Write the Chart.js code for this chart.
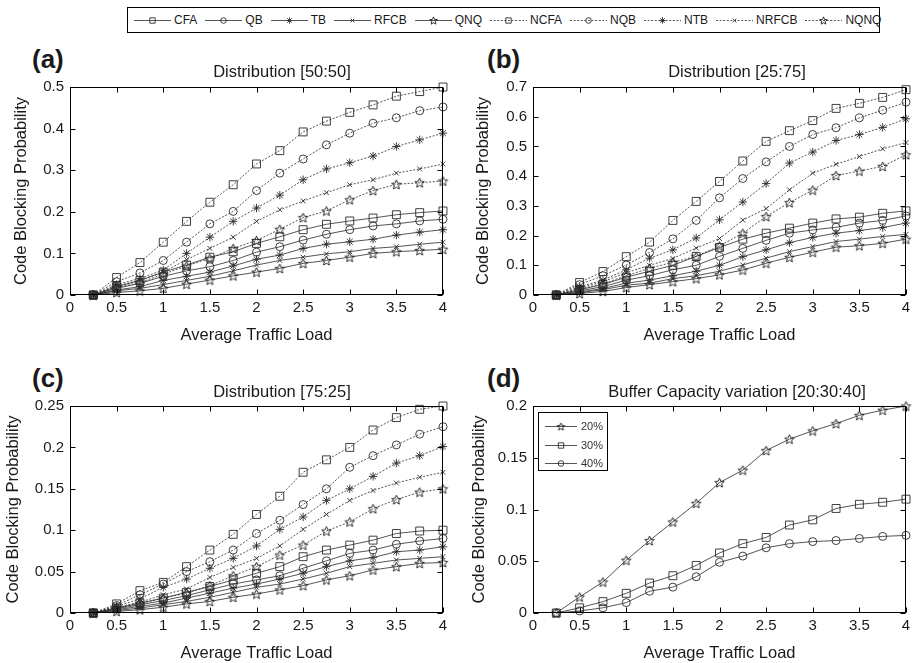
<!DOCTYPE html>
<html>
<head>
<meta charset="utf-8">
<script src="https://cdn.jsdelivr.net/npm/chart.js@4.4.1/dist/chart.umd.min.js"></script>
<style>
  body { margin: 0; background: #fff; font-family: 'Liberation Sans', Arial, sans-serif; color: #1a1a1a; }
  #page { position: relative; width: 915px; height: 663px; overflow: hidden; }
  .panel { position: absolute; }
  .tag { position: absolute; font-weight: bold; font-size: 26px; line-height: 26px; }
  .ttl { position: absolute; width: 360px; margin-left: -180px; text-align: center; font-size: 16.5px; line-height: 20px; white-space: nowrap; }
  #legend { position: absolute; left: 127px; top: 7px; width: 753px; height: 26px; box-sizing: border-box;
            border: 1px solid #000; display: flex; align-items: center; padding-left: 6px; font-size: 12px; }
  #legend .item { display: flex; align-items: center; margin-right: 8px; }
  #legend canvas { margin-right: 3px; }
  #legendD { position: absolute; left: 538px; top: 412px; width: 70px; height: 59px; box-sizing: border-box;
             border: 1px solid #000; background: #fff; font-size: 11px; color: #333; padding-top: 4px; }
  #legendD .item { display: flex; align-items: center; height: 18.5px; padding-left: 6px; }
  #legendD canvas { margin-right: 4px; }
</style>
</head>
<body>
<div id="page">
  <div id="legend"></div>
  <div class="tag" style="left:32px;top:46px">(a)</div>
  <div class="tag" style="left:487px;top:46px">(b)</div>
  <div class="tag" style="left:32px;top:365px">(c)</div>
  <div class="tag" style="left:487px;top:365px">(d)</div>
  <canvas id="chartA" class="panel" style="left:0;top:55px" width="455" height="290"></canvas>
  <canvas id="chartB" class="panel" style="left:455px;top:55px" width="460" height="290"></canvas>
  <canvas id="chartC" class="panel" style="left:0;top:374px" width="455" height="289"></canvas>
  <canvas id="chartD" class="panel" style="left:455px;top:374px" width="460" height="289"></canvas>
  <div class="ttl" style="left:282px;top:61px">Distribution [50:50]</div>
  <div class="ttl" style="left:737px;top:61px">Distribution [25:75]</div>
  <div class="ttl" style="left:282px;top:381px">Distribution [75:25]</div>
  <div class="ttl" style="left:737px;top:381px">Buffer Capacity variation [20:30:40]</div>
  <div id="legendD"></div>
</div>
<script>
// x positions (average traffic load) shared by every curve
const xLoad = [0.25, 0.5, 0.75, 1, 1.25, 1.5, 1.75, 2, 2.25, 2.5, 2.75, 3, 3.25, 3.5, 3.75, 4];
const xTicks = [0, 0.5, 1, 1.5, 2, 2.5, 3, 3.5, 4];
const yTicksA = [0, 0.1, 0.2, 0.3, 0.4, 0.5];
const yTicksB = [0, 0.1, 0.2, 0.3, 0.4, 0.5, 0.6, 0.7];
const yTicksC = [0, 0.05, 0.1, 0.15, 0.2, 0.25];
const yTicksD = [0, 0.05, 0.1, 0.15, 0.2];

const seriesNames = ['CFA', 'QB', 'TB', 'RFCB', 'QNQ', 'NCFA', 'NQB', 'NTB', 'NRFCB', 'NQNQ'];
const bufferNames = ['20%', '30%', '40%'];

// (a) Distribution [50:50]
const a_CFA   = [0, 0.020, 0.035, 0.055, 0.072, 0.091, 0.104, 0.124, 0.140, 0.157, 0.170, 0.178, 0.185, 0.193, 0.198, 0.202];
const a_QB    = [0, 0.016, 0.028, 0.045, 0.058, 0.068, 0.083, 0.103, 0.116, 0.132, 0.146, 0.157, 0.166, 0.171, 0.178, 0.182];
const a_TB    = [0, 0.012, 0.020, 0.035, 0.045, 0.055, 0.070, 0.086, 0.096, 0.112, 0.122, 0.128, 0.134, 0.144, 0.151, 0.157];
const a_RFCB  = [0, 0.010, 0.016, 0.025, 0.035, 0.045, 0.058, 0.072, 0.083, 0.091, 0.099, 0.104, 0.112, 0.116, 0.122, 0.127];
const a_QNQ   = [0, 0.006, 0.010, 0.016, 0.026, 0.036, 0.046, 0.055, 0.064, 0.076, 0.083, 0.091, 0.100, 0.104, 0.107, 0.110];
const a_NCFA  = [0, 0.042, 0.078, 0.127, 0.177, 0.223, 0.265, 0.315, 0.347, 0.392, 0.418, 0.439, 0.457, 0.478, 0.489, 0.500];
const a_NQB   = [0, 0.032, 0.053, 0.083, 0.127, 0.171, 0.201, 0.251, 0.293, 0.327, 0.361, 0.389, 0.413, 0.426, 0.443, 0.452];
const a_NTB   = [0, 0.025, 0.040, 0.060, 0.100, 0.139, 0.177, 0.209, 0.240, 0.277, 0.303, 0.318, 0.334, 0.357, 0.373, 0.389];
const a_NRFCB = [0, 0.022, 0.035, 0.055, 0.085, 0.112, 0.139, 0.177, 0.205, 0.226, 0.246, 0.265, 0.277, 0.293, 0.303, 0.315];
const a_NQNQ  = [0, 0.018, 0.030, 0.050, 0.070, 0.088, 0.112, 0.131, 0.158, 0.186, 0.202, 0.229, 0.251, 0.266, 0.270, 0.274];

// (b) Distribution [25:75]
const b_CFA   = [0, 0.018, 0.035, 0.060, 0.080, 0.100, 0.130, 0.160, 0.188, 0.208, 0.225, 0.242, 0.256, 0.262, 0.275, 0.283];
const b_QB    = [0, 0.014, 0.028, 0.050, 0.065, 0.085, 0.100, 0.130, 0.157, 0.184, 0.208, 0.219, 0.228, 0.242, 0.251, 0.266];
const b_TB    = [0, 0.010, 0.022, 0.040, 0.050, 0.065, 0.080, 0.100, 0.129, 0.152, 0.176, 0.194, 0.208, 0.217, 0.227, 0.242];
const b_RFCB  = [0, 0.008, 0.018, 0.033, 0.040, 0.055, 0.065, 0.080, 0.101, 0.124, 0.146, 0.163, 0.180, 0.188, 0.197, 0.204];
const b_QNQ   = [0, 0.005, 0.012, 0.025, 0.035, 0.045, 0.055, 0.068, 0.084, 0.107, 0.127, 0.144, 0.161, 0.166, 0.174, 0.188];
const b_NCFA  = [0, 0.042, 0.079, 0.129, 0.178, 0.251, 0.315, 0.382, 0.451, 0.517, 0.553, 0.587, 0.628, 0.645, 0.665, 0.691];
const b_NQB   = [0, 0.035, 0.065, 0.101, 0.143, 0.189, 0.251, 0.327, 0.392, 0.448, 0.500, 0.540, 0.563, 0.596, 0.622, 0.649];
const b_NTB   = [0, 0.028, 0.050, 0.085, 0.124, 0.152, 0.192, 0.253, 0.313, 0.375, 0.444, 0.481, 0.520, 0.540, 0.564, 0.593];
const b_NRFCB = [0, 0.024, 0.045, 0.075, 0.100, 0.123, 0.158, 0.190, 0.252, 0.291, 0.354, 0.410, 0.440, 0.466, 0.492, 0.513];
const b_NQNQ  = [0, 0.020, 0.038, 0.065, 0.090, 0.110, 0.130, 0.165, 0.208, 0.264, 0.311, 0.353, 0.402, 0.417, 0.433, 0.472];

// (c) Distribution [75:25]
const c_CFA   = [0, 0.006, 0.012, 0.018, 0.025, 0.032, 0.040, 0.048, 0.056, 0.068, 0.076, 0.082, 0.088, 0.096, 0.099, 0.100];
const c_QB    = [0, 0.005, 0.010, 0.015, 0.021, 0.028, 0.035, 0.040, 0.045, 0.054, 0.063, 0.072, 0.076, 0.083, 0.087, 0.090];
const c_TB    = [0, 0.004, 0.008, 0.012, 0.018, 0.024, 0.030, 0.035, 0.041, 0.048, 0.056, 0.063, 0.067, 0.074, 0.076, 0.080];
const c_RFCB  = [0, 0.003, 0.006, 0.010, 0.014, 0.019, 0.025, 0.031, 0.035, 0.041, 0.048, 0.056, 0.060, 0.064, 0.066, 0.068];
const c_QNQ   = [0, 0.002, 0.004, 0.007, 0.011, 0.014, 0.019, 0.023, 0.028, 0.033, 0.040, 0.045, 0.052, 0.056, 0.060, 0.061];
const c_NCFA  = [0, 0.011, 0.027, 0.037, 0.056, 0.076, 0.095, 0.119, 0.141, 0.170, 0.185, 0.200, 0.221, 0.236, 0.246, 0.250];
const c_NQB   = [0, 0.009, 0.022, 0.035, 0.050, 0.062, 0.076, 0.096, 0.112, 0.131, 0.150, 0.176, 0.190, 0.203, 0.216, 0.225];
const c_NTB   = [0, 0.008, 0.017, 0.031, 0.041, 0.054, 0.066, 0.081, 0.101, 0.116, 0.136, 0.150, 0.165, 0.181, 0.190, 0.201];
const c_NRFCB = [0, 0.007, 0.013, 0.022, 0.029, 0.043, 0.055, 0.066, 0.081, 0.101, 0.119, 0.136, 0.148, 0.157, 0.164, 0.170];
const c_NQNQ  = [0, 0.006, 0.011, 0.018, 0.024, 0.033, 0.045, 0.056, 0.070, 0.082, 0.099, 0.110, 0.126, 0.137, 0.146, 0.150];

// (d) Buffer Capacity variation [20:30:40]
const d_20 = [0, 0.0155, 0.030, 0.051, 0.070, 0.088, 0.106, 0.126, 0.138, 0.157, 0.168, 0.176, 0.183, 0.191, 0.196, 0.200];
const d_30 = [0, 0.005, 0.011, 0.019, 0.029, 0.036, 0.046, 0.058, 0.067, 0.073, 0.085, 0.090, 0.101, 0.105, 0.107, 0.110];
const d_40 = [0, 0.002, 0.005, 0.010, 0.021, 0.025, 0.035, 0.049, 0.055, 0.063, 0.067, 0.069, 0.070, 0.072, 0.074, 0.075];

const FONT = "'Liberation Sans', Arial, sans-serif";
const INK = '#1a1a1a';
const LINE = '#2a2a2a';

// MATLAB-like pentagram marker, drawn once into a small canvas
function pentagram(r) {
    const c = document.createElement('canvas');
    const s = Math.ceil(r * 2 + 3);
    c.width = c.height = s;
    const g = c.getContext('2d');
    g.strokeStyle = '#1a1a1a';
    g.lineWidth = 0.9;
    g.beginPath();
    for (let i = 0; i < 10; i++) {
        const rad = i % 2 ? r * 0.45 : r;
        const ang = -Math.PI / 2 + i * Math.PI / 5;
        g.lineTo(s / 2 + rad * Math.cos(ang), s / 2 + rad * Math.sin(ang) + r * 0.1);
    }
    g.closePath();
    g.stroke();
    return c;
}

const starBig = pentagram(5);
const starSmall = pentagram(4);

const markers = {
    CFA:  { style: 'rect', r: 5.6, lr: 3.8 },
    QB:   { style: 'circle', r: 4, lr: 2.8 },
    TB:   { style: 'star', r: 4.2, lr: 3.2 },
    RFCB: { style: 'crossRot', r: 3.4, lr: 2.6 },
    QNQ:  { style: 'pent', r: 5, lr: 4 }
};
const markerOfBuffer = { '20%': 'QNQ', '30%': 'CFA', '40%': 'QB' };

function makeDataset(label, values, markerKey, dotted) {
    const m = markers[markerKey];
    return {
        label,
        data: xLoad.map((x, i) => ({ x, y: values[i] })),
        borderColor: LINE,
        borderWidth: 0.8,
        borderDash: dotted ? [2, 1.6] : [],
        pointStyle: m.style === 'pent' ? starBig : m.style,
        pointRadius: m.r,
        pointBorderColor: LINE,
        pointBackgroundColor: 'rgba(0,0,0,0)',
        pointBorderWidth: 0.9,
        tension: 0,
        clip: false
    };
}

// box frame with inward ticks on all four sides
const frameTicks = {
    id: 'frameTicks',
    afterDatasetsDraw(chart) {
        const { ctx, chartArea: a, scales: { x, y } } = chart;
        const L = Math.round(a.left) + 0.5, R = Math.round(a.right) - 0.5;
        const T = Math.round(a.top) + 0.5, B = Math.round(a.bottom) - 0.5;
        ctx.save();
        ctx.strokeStyle = '#000';
        ctx.lineWidth = 1;
        ctx.strokeRect(L, T, R - L, B - T);
        ctx.beginPath();
        x.ticks.forEach(t => {
            const px = Math.round(x.getPixelForValue(t.value)) + 0.5;
            ctx.moveTo(px, B); ctx.lineTo(px, B - 5);
            ctx.moveTo(px, T); ctx.lineTo(px, T + 5);
        });
        y.ticks.forEach(t => {
            const py = Math.round(y.getPixelForValue(t.value)) + 0.5;
            ctx.moveTo(L, py); ctx.lineTo(L + 5, py);
            ctx.moveTo(R, py); ctx.lineTo(R - 5, py);
        });
        ctx.stroke();
        ctx.restore();
    }
};

function makeChart(id, cfg) {
    return new Chart(document.getElementById(id), {
        type: 'line',
        data: { datasets: cfg.datasets },
        options: {
            responsive: false,
            animation: false,
            events: [],
            layout: { padding: { left: 0, right: cfg.padRight, top: 32, bottom: 0 } },
            plugins: {
                legend: { display: false },
                tooltip: { enabled: false },
                title: { display: false }
            },
            scales: {
                x: {
                    type: 'linear',
                    min: 0, max: 4,
                    afterBuildTicks: s => { s.ticks = xTicks.map(v => ({ value: v })); },
                    afterFit: s => { s.height = 50; },
                    grid: { display: false, drawTicks: false, tickLength: 0 },
                    border: { display: false },
                    ticks: {
                        color: INK, padding: 4, maxRotation: 0, autoSkip: false,
                        font: { family: FONT, size: 15 },
                        callback: v => String(+v.toFixed(4))
                    },
                    title: {
                        display: true, text: 'Average Traffic Load', color: INK,
                        font: { family: FONT, size: 16.5, lineHeight: 1.2 },
                        padding: { top: 0, bottom: 0 }
                    }
                },
                y: {
                    min: 0, max: cfg.yTicks[cfg.yTicks.length - 1],
                    afterBuildTicks: s => { s.ticks = cfg.yTicks.map(v => ({ value: v })); },
                    afterFit: s => { s.width = cfg.yWidth; },
                    grid: { display: false, drawTicks: false, tickLength: 0 },
                    border: { display: false },
                    ticks: {
                        color: INK, padding: 6, autoSkip: false,
                        font: { family: FONT, size: 15 },
                        callback: v => String(+v.toFixed(4))
                    },
                    title: {
                        display: true, text: 'Code Blocking Probability', color: INK,
                        font: { family: FONT, size: 16.5, lineHeight: 1.2 },
                        padding: { top: cfg.yTitlePad, bottom: 0 }
                    }
                }
            }
        },
        plugins: [frameTicks]
    });
}

function distributionSets(values) {
    return seriesNames.map((name, i) => makeDataset(name, values[i], seriesNames[i % 5], i >= 5));
}

makeChart('chartA', {
    yTicks: yTicksA, yWidth: 70, yTitlePad: 12, padRight: 12,
    datasets: distributionSets([a_CFA, a_QB, a_TB, a_RFCB, a_QNQ, a_NCFA, a_NQB, a_NTB, a_NRFCB, a_NQNQ])
});
makeChart('chartB', {
    yTicks: yTicksB, yWidth: 78, yTitlePad: 19, padRight: 9,
    datasets: distributionSets([b_CFA, b_QB, b_TB, b_RFCB, b_QNQ, b_NCFA, b_NQB, b_NTB, b_NRFCB, b_NQNQ])
});
makeChart('chartC', {
    yTicks: yTicksC, yWidth: 70, yTitlePad: 3.5, padRight: 12,
    datasets: distributionSets([c_CFA, c_QB, c_TB, c_RFCB, c_QNQ, c_NCFA, c_NQB, c_NTB, c_NRFCB, c_NQNQ])
});
makeChart('chartD', {
    yTicks: yTicksD, yWidth: 78, yTitlePad: 15, padRight: 9,
    datasets: [d_20, d_30, d_40].map((v, i) => makeDataset(bufferNames[i], v, markerOfBuffer[bufferNames[i]], false))
});

// legend swatch: short line with a marker in the middle
function swatch(w, h, markerKey, dotted) {
    const c = document.createElement('canvas');
    c.width = w; c.height = h;
    const g = c.getContext('2d');
    g.strokeStyle = LINE;
    g.lineWidth = 0.8;
    g.setLineDash(dotted ? [2, 1.6] : []);
    g.beginPath();
    g.moveTo(0, h / 2 + 0.5); g.lineTo(w, h / 2 + 0.5);
    g.stroke();
    g.setLineDash([]);
    const m = markers[markerKey];
    g.fillStyle = 'rgba(0,0,0,0)';
    g.lineWidth = 0.9;
    const style = m.style === 'pent' ? starSmall : m.style;
    Chart.helpers.drawPoint(g, { pointStyle: style, radius: m.lr, rotation: 0, borderWidth: 0.9 }, w / 2, h / 2 + 0.5);
    return c;
}

const legend = document.getElementById('legend');
seriesNames.forEach((name, i) => {
    const item = document.createElement('div');
    item.className = 'item';
    item.appendChild(swatch(37, 14, seriesNames[i % 5], i >= 5));
    const span = document.createElement('span');
    span.textContent = name;
    item.appendChild(span);
    legend.appendChild(item);
});

const legendD = document.getElementById('legendD');
bufferNames.forEach(name => {
    const item = document.createElement('div');
    item.className = 'item';
    item.appendChild(swatch(32, 14, markerOfBuffer[name], false));
    const span = document.createElement('span');
    span.textContent = name;
    item.appendChild(span);
    legendD.appendChild(item);
});
</script>
</body>
</html>
